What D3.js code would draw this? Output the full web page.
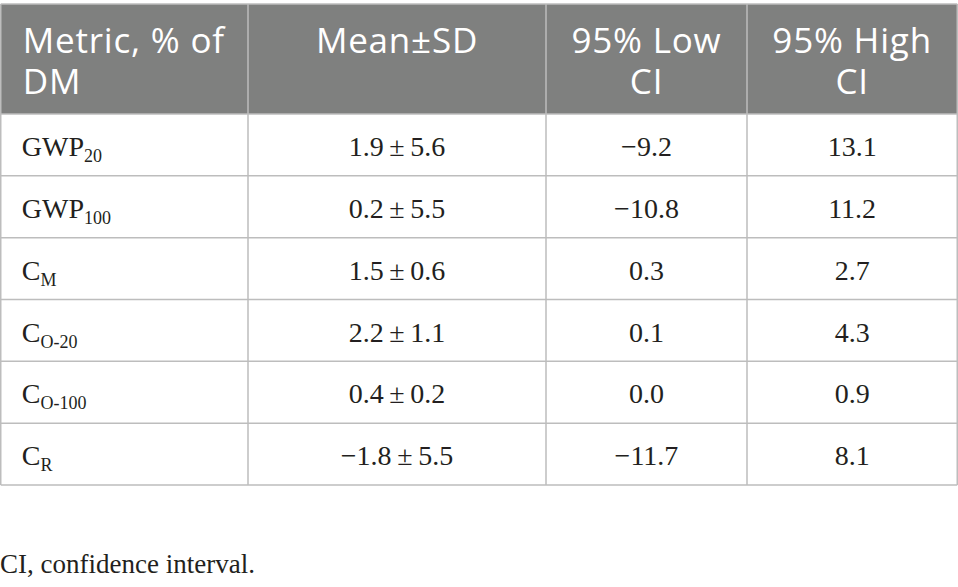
<!DOCTYPE html>
<html>
<head>
<meta charset="utf-8">
<script src="https://cdn.jsdelivr.net/npm/d3@7"></script>
<style>
  html, body { margin: 0; padding: 0; background: #fff; }
  svg { display: block; }
</style>
</head>
<body>
<div id="chart"></div>
<script>
// table data
const headers = [["Metric, % of", "DM"], ["Mean\u00B1SD"], ["95% Low", "CI"], ["95% High", "CI"]];
const metricBase = ["GWP", "GWP", "C", "C", "C", "C"];
const metricSub = ["20", "100", "M", "O-20", "O-100", "R"];
const means = [1.9, 0.2, 1.5, 2.2, 0.4, -1.8];
const sds = [5.6, 5.5, 0.6, 1.1, 0.2, 5.5];
const lowCI = [-9.2, -10.8, 0.3, 0.1, 0.0, -11.7];
const highCI = [13.1, 11.2, 2.7, 4.3, 0.9, 8.1];
const footnote = "CI, confidence interval.";

const W = 958, H = 587;
const colEdges = [0.75, 248, 546, 747, 957.25];
const tableTop = 4, headH = 110, bodyTop = 114, bodyBottom = 485;
const lineColor = "#bdbdbd";
const fmt = d3.format(".1f");

const svg = d3.select("#chart").append("svg")
    .attr("width", W)
    .attr("height", H);

const rows = d3.range(means.length);
const y = d3.scaleBand().domain(rows).range([bodyTop, bodyBottom]);

// header background
svg.append("rect")
    .attr("x", colEdges[0]).attr("y", tableTop)
    .attr("width", colEdges[4] - colEdges[0]).attr("height", headH)
    .attr("fill", "#7f807f");

// header text, one text per line
const sans = "'Open Sans', Lato, sans-serif";
headers.forEach((lines, i) => {
  const left = i === 0;
  const x = left ? colEdges[0] + 22 : (colEdges[i] + colEdges[i + 1]) / 2;
  lines.forEach((l, j) => {
    svg.append("text")
        .attr("x", x)
        .attr("y", tableTop + 49 + j * 41)
        .attr("text-anchor", left ? "start" : "middle")
        .attr("fill", "#fff")
        .style("font-family", sans)
        .style("font-size", "35px")
        .style("letter-spacing", "0.8px")
        .text(l);
  });
});

// body cells
const serif = "'Liberation Serif', 'DejaVu Serif', serif";
const body = svg.append("g")
    .style("font-family", serif)
    .style("font-size", "28px")
    .attr("fill", "#231f20");

rows.forEach(r => {
  const by = y(r) + 42;
  const t = body.append("text").attr("x", colEdges[0] + 21).attr("y", by);
  t.append("tspan").text(metricBase[r]);
  t.append("tspan").attr("dy", 6).style("font-size", "18px").text(metricSub[r]);

  const cells = [fmt(means[r]) + "\u2009\u00B1\u2009" + fmt(sds[r]), fmt(lowCI[r]), fmt(highCI[r])];
  cells.forEach((c, k) => {
    body.append("text")
        .attr("x", (colEdges[k + 1] + colEdges[k + 2]) / 2)
        .attr("y", by)
        .attr("text-anchor", "middle")
        .text(c);
  });
});

// grid lines
const grid = svg.append("g")
    .attr("stroke", lineColor)
    .attr("stroke-width", 1.5)
    .attr("fill", "none");

grid.append("line")
    .attr("x1", colEdges[0]).attr("x2", colEdges[4])
    .attr("y1", tableTop).attr("y2", tableTop);

rows.concat([means.length]).forEach(r => {
  const yy = r < means.length ? y(r) : bodyBottom;
  grid.append("line")
      .attr("x1", colEdges[0]).attr("x2", colEdges[4])
      .attr("y1", yy).attr("y2", yy);
});

colEdges.forEach(cx => {
  grid.append("line")
      .attr("x1", cx).attr("x2", cx)
      .attr("y1", tableTop).attr("y2", bodyBottom);
});

// footnote
svg.append("text")
    .attr("x", 0)
    .attr("y", 573)
    .attr("fill", "#231f20")
    .style("font-family", serif)
    .style("font-size", "27px")
    .text(footnote);
</script>
</body>
</html>
